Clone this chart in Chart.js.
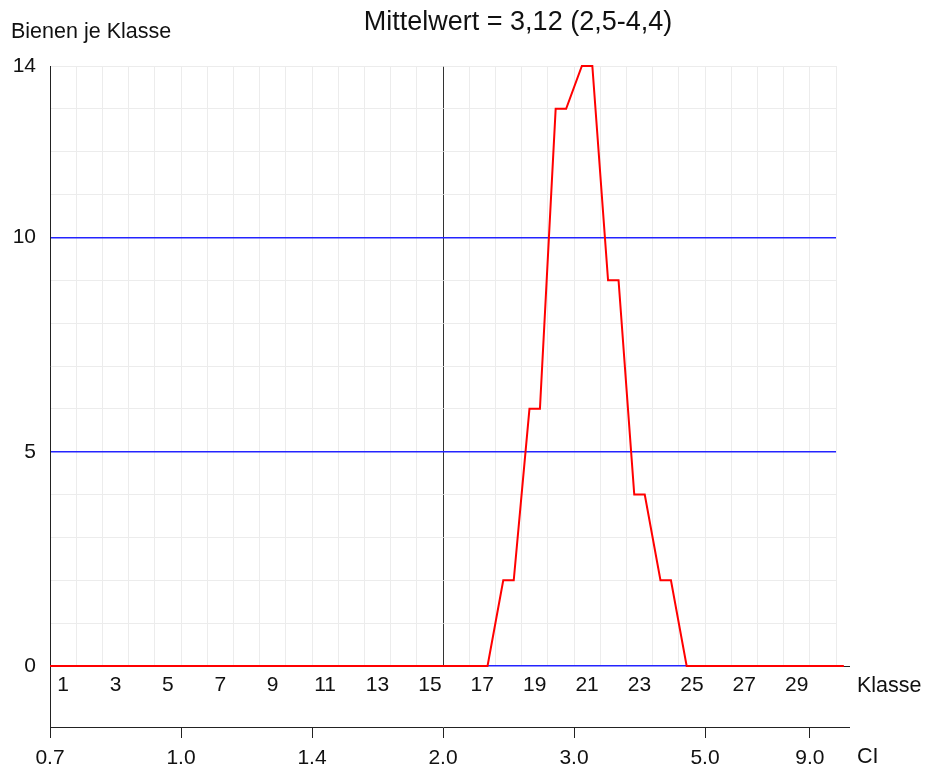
<!DOCTYPE html>
<html>
<head>
<meta charset="utf-8">
<script src="https://cdn.jsdelivr.net/npm/chart.js@4/dist/chart.umd.min.js"></script>
<style>
  html, body { margin: 0; padding: 0; background: #ffffff; }
  #wrap { width: 936px; height: 767px; position: relative; }
</style>
</head>
<body>
<div id="wrap"><canvas id="c"></canvas></div>
<script>
// ---- data ----
const classes = [1,2,3,4,5,6,7,8,9,10,11,12,13,14,15,16,17,18,19,20,21,22,23,24,25,26,27,28,29,30];
const beesPerClass = [0,0,0,0,0,0,0,0,0,0,0,0,0,0,0,0,0,2,6,13,14,9,4,2,0,0,0,0,0,0];
const classTickLabels = [1,3,5,7,9,11,13,15,17,19,21,23,25,27,29];
const ciTickLabels = ['0.7','1.0','1.4','2.0','3.0','5.0','9.0'];
const ciTickClassPos = [0.5,5.5,10.5,15.5,20.5,25.5,29.5];
const yTickLabels = [0,5,10,14];
const yBlueLines = [0,5,10];
const titleText = 'Mittelwert = 3,12 (2,5-4,4)';
const yTitle = 'Bienen je Klasse';
const xTitle = 'Klasse';
const ciTitle = 'CI';

// ---- styles ----
const FONT = '"Liberation Sans", Arial, sans-serif';
const PLATEAU = 0.2;          // half width of the flat part of each class
const CI_REF_LABEL = '2.0';   // vertical reference line at this CI value
const refClass = ciTickClassPos[ciTickLabels.indexOf(CI_REF_LABEL)];
const BLUE = '#2424ff';
const GRAY = '#ececec';

// build points: flat plateau per class, linear ramps in between
// (one empty class on each side so the zero line reaches the frame)
const ext = [{c: classes[0] - 1, v: 0}]
  .concat(classes.map((c, i) => ({c, v: beesPerClass[i]})))
  .concat([{c: classes[classes.length - 1] + 1, v: 0}]);
const pts = [];
ext.forEach(o => { pts.push({x: o.c - PLATEAU, y: o.v}); pts.push({x: o.c + PLATEAU, y: o.v}); });

const xMin = classes[0] - 0.5, xMax = classes[classes.length - 1] + 0.5;
const xTicks = [];
classes.forEach(c => { xTicks.push(c - 0.5); xTicks.push(c); });
xTicks.push(xMax);

Chart.defaults.font.family = FONT;
Chart.defaults.color = '#111';

const overlay = {
  id: 'overlay',
  beforeDatasetsDraw(chart) {
    const {ctx, chartArea: a, scales} = chart;
    const y = scales.y, ci = scales.ci;
    ctx.save();
    ctx.strokeStyle = '#222';
    ctx.lineWidth = 1;
    ctx.beginPath();
    const y0 = Math.round(y.getPixelForValue(0)) + 0.5;
    ctx.moveTo(a.right, y0); ctx.lineTo(a.right + 14, y0);
    const yc = Math.round(ci.top) + 0.5;
    ctx.moveTo(a.right, yc); ctx.lineTo(a.right + 14, yc);
    const xl = Math.round(a.left) + 0.5;
    ctx.moveTo(xl, a.bottom); ctx.lineTo(xl, ci.top);
    ctx.stroke();
    ctx.restore();
  },
  afterDraw(chart) {
    const {ctx} = chart;
    ctx.save();
    ctx.fillStyle = '#111';
    ctx.textBaseline = 'alphabetic';
    ctx.font = '27px ' + FONT;
    ctx.textAlign = 'center';
    ctx.fillText(titleText, 518, 29.5);
    ctx.font = '21.5px ' + FONT;
    ctx.textAlign = 'left';
    ctx.fillText(yTitle, 11, 38);
    ctx.fillText(xTitle, 857, 692);
    ctx.fillText(ciTitle, 857, 763);
    ctx.restore();
  }
};

new Chart(document.getElementById('c'), {
  type: 'line',
  data: {
    datasets: [{
      data: pts,
      borderColor: '#ff0000',
      borderWidth: 2,
      pointRadius: 0,
      tension: 0,
      fill: false,
      clip: {left: 0, top: 3, right: 9, bottom: 3}
    }]
  },
  options: {
    responsive: true,
    maintainAspectRatio: false,
    animation: false,
    layout: {padding: {top: 66, right: 100, bottom: 0, left: 0}},
    plugins: {legend: {display: false}, tooltip: {enabled: false}, title: {display: false}},
    scales: {
      x: {
        type: 'linear', position: 'bottom', weight: 0,
        min: xMin, max: xMax,
        afterBuildTicks: s => { s.ticks = xTicks.map(v => ({value: v})); },
        afterFit: s => { s.height = 61; },
        grid: {
          display: true, drawTicks: false, drawOnChartArea: true, lineWidth: 1,
          color: ctx => {
            const v = ctx.tick ? ctx.tick.value : null;
            if (v === refClass) return '#333333';
            if (v === xMin) return 'rgba(0,0,0,0)';
            if (v !== null && Math.abs(v % 1 - 0.5) < 1e-6) return GRAY;
            return 'rgba(0,0,0,0)';
          }
        },
        border: {display: false},
        ticks: {
          autoSkip: false, maxRotation: 0, minRotation: 0, padding: 7,
          font: {size: 21}, color: '#111',
          callback: v => classTickLabels.includes(v) ? String(v) : ''
        }
      },
      ci: {
        type: 'linear', position: 'bottom', weight: 1,
        min: xMin, max: xMax,
        afterBuildTicks: s => { s.ticks = ciTickClassPos.map(v => ({value: v})); },
        afterFit: s => { s.height = 40; },
        grid: {display: true, drawOnChartArea: false, drawTicks: true, tickLength: 11, color: '#222'},
        border: {display: true, color: '#222', width: 1},
        ticks: {
          autoSkip: false, maxRotation: 0, minRotation: 0, padding: 8,
          font: {size: 21}, color: '#111',
          callback: (v, i) => ciTickLabels[i]
        }
      },
      y: {
        type: 'linear', position: 'left',
        min: 0, max: 14,
        afterFit: s => { s.width = 50; },
        grid: {
          display: true, drawTicks: false,
          lineWidth: ctx => (ctx.tick && yBlueLines.includes(Math.round(ctx.tick.value))) ? 1.4 : 1,
          color: ctx => {
            const v = ctx.tick ? Math.round(ctx.tick.value) : null;
            return yBlueLines.includes(v) ? BLUE : GRAY;
          }
        },
        border: {display: true, color: '#222', width: 1},
        ticks: {
          stepSize: 1, autoSkip: false, padding: 14,
          font: {size: 21}, color: '#111',
          callback: v => yTickLabels.includes(v) ? String(v) : ''
        }
      }
    }
  },
  plugins: [overlay]
});
</script>
</body>
</html>
